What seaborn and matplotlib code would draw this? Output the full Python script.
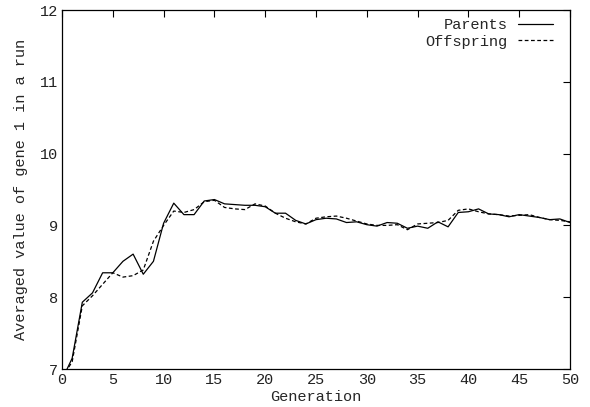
import numpy as np
import pandas as pd
import matplotlib
matplotlib.use("Agg")
import matplotlib.pyplot as plt
import seaborn as sns

generations = list(range(0, 51))

parents = [6.85, 7.15, 7.93, 8.06, 8.34, 8.34, 8.50, 8.60, 8.32, 8.50,
           9.03, 9.31, 9.15, 9.15, 9.34, 9.36, 9.30, 9.29, 9.28, 9.28,
           9.26, 9.17, 9.17, 9.07, 9.02, 9.08, 9.10, 9.09, 9.04, 9.05,
           9.01, 8.99, 9.04, 9.03, 8.96, 8.99, 8.96, 9.05, 8.98, 9.18,
           9.19, 9.23, 9.16, 9.15, 9.12, 9.15, 9.13, 9.11, 9.08, 9.09,
           9.04]

offspring = [6.88, 7.10, 7.88, 8.02, 8.18, 8.34, 8.28, 8.30, 8.38, 8.78,
             9.00, 9.20, 9.18, 9.22, 9.33, 9.35, 9.25, 9.23, 9.22, 9.30,
             9.27, 9.17, 9.10, 9.05, 9.02, 9.10, 9.12, 9.13, 9.10, 9.06,
             9.02, 9.00, 9.00, 9.01, 8.94, 9.02, 9.03, 9.04, 9.07, 9.21,
             9.23, 9.19, 9.16, 9.15, 9.13, 9.14, 9.15, 9.11, 9.08, 9.07,
             9.05]

series_names = ["Parents", "Offspring"]
x_ticks = [0, 5, 10, 15, 20, 25, 30, 35, 40, 45, 50]
y_ticks = [7, 8, 9, 10, 11, 12]

df = pd.DataFrame({
    "Generation": generations * 2,
    "value": parents + offspring,
    "series": [series_names[0]] * len(parents) + [series_names[1]] * len(offspring),
})

sns.set_theme(style="white")
plt.rcParams["font.family"] = ["Liberation Mono", "DejaVu Sans Mono"]
plt.rcParams["font.size"] = 11

fig = plt.figure(figsize=(5.9, 4.07), dpi=100)
ax = fig.add_axes([62 / 590, 1 - 369 / 407, (570 - 62) / 590, (369 - 10) / 407])

sns.lineplot(data=df, x="Generation", y="value", hue="series", style="series",
             palette=["black", "black"], dashes=[(None, None), (3, 2)],
             linewidth=0.9, ax=ax, legend=True)

ax.set_xlim(0, 50)
ax.set_ylim(7, 12)
ax.set_xticks(x_ticks)
ax.set_yticks(y_ticks)
ax.tick_params(direction="in", length=5, width=0.8, top=True, right=True,
               labelsize=11, colors="black", pad=3)
ax.tick_params(axis="both", labelcolor="#222222")
for s in ax.spines.values():
    s.set_visible(True)
    s.set_color("black")
    s.set_linewidth(0.9)

ax.set_xlabel("Generation", fontsize=11, labelpad=2)
ax.set_ylabel("Averaged value of gene 1 in a run", fontsize=11, labelpad=8)

handles, labels = ax.get_legend_handles_labels()
leg = ax.legend(handles, labels, loc="upper right", frameon=False,
                bbox_to_anchor=(0.9665, 0.977), borderaxespad=0, borderpad=0,
                markerfirst=False, handlelength=2.3, handletextpad=0.7,
                labelspacing=0.15, fontsize=11)

fig.savefig("out.png", dpi=100, facecolor="white")
